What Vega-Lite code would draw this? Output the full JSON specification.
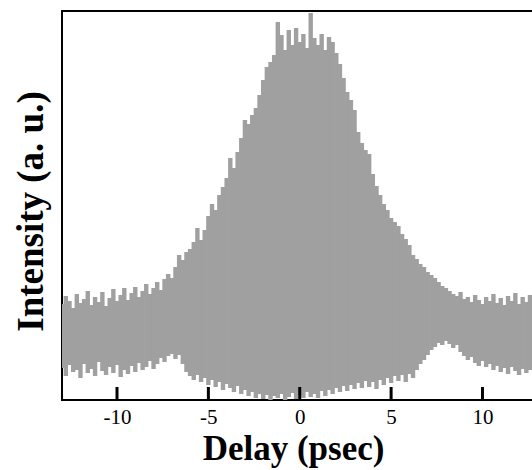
{
 "$schema": "https://vega.github.io/schema/vega-lite/v6.json",
 "width": 472,
 "height": 389,
 "autosize": "none",
 "padding": {"left": 62, "top": 11, "right": 0, "bottom": 70},
 "background": "white",
 "config": {"view": {"stroke": "#000", "strokeWidth": 2}, "font": "Liberation Serif"},
 "layer": [
 {
 "data": {"values": [
  {"t": -13.0, "hi": 96, "lo": 32}, {"t": -12.8, "hi": 104, "lo": 24}, {"t": -12.6, "hi": 99, "lo": 35}, {"t": -12.4, "hi": 92, "lo": 28},
  {"t": -12.2, "hi": 106, "lo": 30}, {"t": -12.0, "hi": 97, "lo": 22}, {"t": -11.8, "hi": 101, "lo": 36}, {"t": -11.6, "hi": 109, "lo": 27},
  {"t": -11.4, "hi": 95, "lo": 31}, {"t": -11.2, "hi": 103, "lo": 24}, {"t": -11.0, "hi": 98, "lo": 38}, {"t": -10.8, "hi": 108, "lo": 29},
  {"t": -10.6, "hi": 94, "lo": 25}, {"t": -10.4, "hi": 102, "lo": 33}, {"t": -10.2, "hi": 111, "lo": 27}, {"t": -10.0, "hi": 99, "lo": 35},
  {"t": -9.8, "hi": 105, "lo": 23}, {"t": -9.6, "hi": 112, "lo": 30}, {"t": -9.4, "hi": 100, "lo": 26}, {"t": -9.2, "hi": 107, "lo": 34},
  {"t": -9.0, "hi": 113, "lo": 28}, {"t": -8.8, "hi": 103, "lo": 37}, {"t": -8.6, "hi": 109, "lo": 30}, {"t": -8.4, "hi": 116, "lo": 33},
  {"t": -8.2, "hi": 106, "lo": 39}, {"t": -8.0, "hi": 112, "lo": 31}, {"t": -7.8, "hi": 118, "lo": 36}, {"t": -7.6, "hi": 110, "lo": 42},
  {"t": -7.4, "hi": 121, "lo": 38}, {"t": -7.2, "hi": 126, "lo": 44}, {"t": -7.0, "hi": 122, "lo": 46}, {"t": -6.8, "hi": 133, "lo": 41},
  {"t": -6.6, "hi": 145, "lo": 45}, {"t": -6.4, "hi": 140, "lo": 36}, {"t": -6.2, "hi": 148, "lo": 28}, {"t": -6.0, "hi": 151, "lo": 24},
  {"t": -5.8, "hi": 158, "lo": 20}, {"t": -5.6, "hi": 172, "lo": 25}, {"t": -5.4, "hi": 160, "lo": 18}, {"t": -5.2, "hi": 170, "lo": 22},
  {"t": -5.0, "hi": 184, "lo": 15}, {"t": -4.8, "hi": 196, "lo": 20}, {"t": -4.6, "hi": 190, "lo": 13}, {"t": -4.4, "hi": 205, "lo": 18},
  {"t": -4.2, "hi": 213, "lo": 10}, {"t": -4.0, "hi": 222, "lo": 16}, {"t": -3.8, "hi": 242, "lo": 12}, {"t": -3.6, "hi": 232, "lo": 8},
  {"t": -3.4, "hi": 248, "lo": 14}, {"t": -3.2, "hi": 262, "lo": 6}, {"t": -3.0, "hi": 280, "lo": 10}, {"t": -2.8, "hi": 276, "lo": 4},
  {"t": -2.6, "hi": 285, "lo": 8}, {"t": -2.4, "hi": 292, "lo": 2}, {"t": -2.2, "hi": 305, "lo": 6}, {"t": -2.0, "hi": 320, "lo": 1},
  {"t": -1.8, "hi": 333, "lo": 5}, {"t": -1.6, "hi": 338, "lo": 0}, {"t": -1.4, "hi": 345, "lo": 4}, {"t": -1.2, "hi": 378, "lo": 2},
  {"t": -1.0, "hi": 365, "lo": 6}, {"t": -0.8, "hi": 350, "lo": 0}, {"t": -0.6, "hi": 370, "lo": 3}, {"t": -0.4, "hi": 355, "lo": 7},
  {"t": -0.2, "hi": 372, "lo": 1}, {"t": 0.0, "hi": 358, "lo": 5}, {"t": 0.2, "hi": 366, "lo": 2}, {"t": 0.4, "hi": 352, "lo": 8},
  {"t": 0.6, "hi": 387, "lo": 3}, {"t": 0.8, "hi": 362, "lo": 6}, {"t": 1.0, "hi": 355, "lo": 2}, {"t": 1.2, "hi": 366, "lo": 9},
  {"t": 1.4, "hi": 350, "lo": 4}, {"t": 1.6, "hi": 363, "lo": 10}, {"t": 1.8, "hi": 358, "lo": 6}, {"t": 2.0, "hi": 347, "lo": 12},
  {"t": 2.2, "hi": 336, "lo": 8}, {"t": 2.4, "hi": 322, "lo": 14}, {"t": 2.6, "hi": 308, "lo": 9}, {"t": 2.8, "hi": 300, "lo": 15},
  {"t": 3.0, "hi": 290, "lo": 11}, {"t": 3.2, "hi": 268, "lo": 17}, {"t": 3.4, "hi": 257, "lo": 12}, {"t": 3.6, "hi": 250, "lo": 19},
  {"t": 3.8, "hi": 246, "lo": 13}, {"t": 4.0, "hi": 226, "lo": 18}, {"t": 4.2, "hi": 214, "lo": 11}, {"t": 4.4, "hi": 205, "lo": 20},
  {"t": 4.6, "hi": 196, "lo": 15}, {"t": 4.8, "hi": 190, "lo": 22}, {"t": 5.0, "hi": 182, "lo": 17}, {"t": 5.2, "hi": 178, "lo": 24},
  {"t": 5.4, "hi": 174, "lo": 19}, {"t": 5.6, "hi": 166, "lo": 25}, {"t": 5.8, "hi": 161, "lo": 18}, {"t": 6.0, "hi": 155, "lo": 26},
  {"t": 6.2, "hi": 145, "lo": 22}, {"t": 6.4, "hi": 141, "lo": 30}, {"t": 6.6, "hi": 136, "lo": 36}, {"t": 6.8, "hi": 133, "lo": 40},
  {"t": 7.0, "hi": 128, "lo": 45}, {"t": 7.2, "hi": 125, "lo": 50}, {"t": 7.4, "hi": 122, "lo": 53}, {"t": 7.6, "hi": 118, "lo": 57},
  {"t": 7.8, "hi": 114, "lo": 55}, {"t": 8.0, "hi": 112, "lo": 59}, {"t": 8.2, "hi": 109, "lo": 56}, {"t": 8.4, "hi": 106, "lo": 52},
  {"t": 8.6, "hi": 104, "lo": 55}, {"t": 8.8, "hi": 108, "lo": 48}, {"t": 9.0, "hi": 101, "lo": 44}, {"t": 9.2, "hi": 103, "lo": 40},
  {"t": 9.4, "hi": 98, "lo": 43}, {"t": 9.6, "hi": 105, "lo": 37}, {"t": 9.8, "hi": 100, "lo": 34}, {"t": 10.0, "hi": 96, "lo": 39},
  {"t": 10.2, "hi": 103, "lo": 33}, {"t": 10.4, "hi": 99, "lo": 36}, {"t": 10.6, "hi": 106, "lo": 30}, {"t": 10.8, "hi": 97, "lo": 34},
  {"t": 11.0, "hi": 102, "lo": 28}, {"t": 11.2, "hi": 95, "lo": 32}, {"t": 11.4, "hi": 104, "lo": 26}, {"t": 11.6, "hi": 99, "lo": 33},
  {"t": 11.8, "hi": 107, "lo": 29}, {"t": 12.0, "hi": 96, "lo": 25}, {"t": 12.2, "hi": 103, "lo": 31}, {"t": 12.4, "hi": 98, "lo": 27},
  {"t": 12.6, "hi": 105, "lo": 30}, {"t": 12.8, "hi": 100, "lo": 33}
 ]},
 "mark": {"type": "rule", "strokeWidth": 4.4, "color": "#a0a0a0", "clip": true},
 "encoding": {
  "x": {"field": "t", "type": "quantitative",
   "scale": {"domain": [-13.01, 12.82], "nice": false, "zero": false},
   "axis": {"values": [-10, -5, 0, 5, 10], "ticks": false,
    "domain": false, "grid": false, "labelFont": "Liberation Serif", "labelFontSize": 21, "labelColor": "#000",
    "labelPadding": 6, "labelExpr": "'' + datum.value",
    "title": "Delay (psec)", "titleFont": "Liberation Serif", "titleFontWeight": "bold", "titleFontSize": 35,
    "titleColor": "#000", "titlePadding": 4, "titleX": 231}},
  "y": {"field": "lo", "type": "quantitative",
   "scale": {"domain": [0, 389], "nice": false, "zero": false},
   "axis": {"labels": false, "ticks": false, "domain": false, "grid": false,
    "title": "Intensity (a. u.)", "titleFont": "Liberation Serif", "titleFontWeight": "bold", "titleFontSize": 37,
    "titleColor": "#000", "titlePadding": 12, "titleY": 200}},
  "y2": {"field": "hi"}
 }
 },
 {
  "data": {"values": [{"d": -10}, {"d": -5}, {"d": 0}, {"d": 5}, {"d": 10}]},
  "mark": {"type": "rule", "strokeWidth": 3, "stroke": "#000", "opacity": 1},
  "encoding": {
   "x": {"field": "d", "type": "quantitative"},
   "y": {"datum": 0, "type": "quantitative"},
   "y2": {"datum": 13}
  }
 }
 ]
}
